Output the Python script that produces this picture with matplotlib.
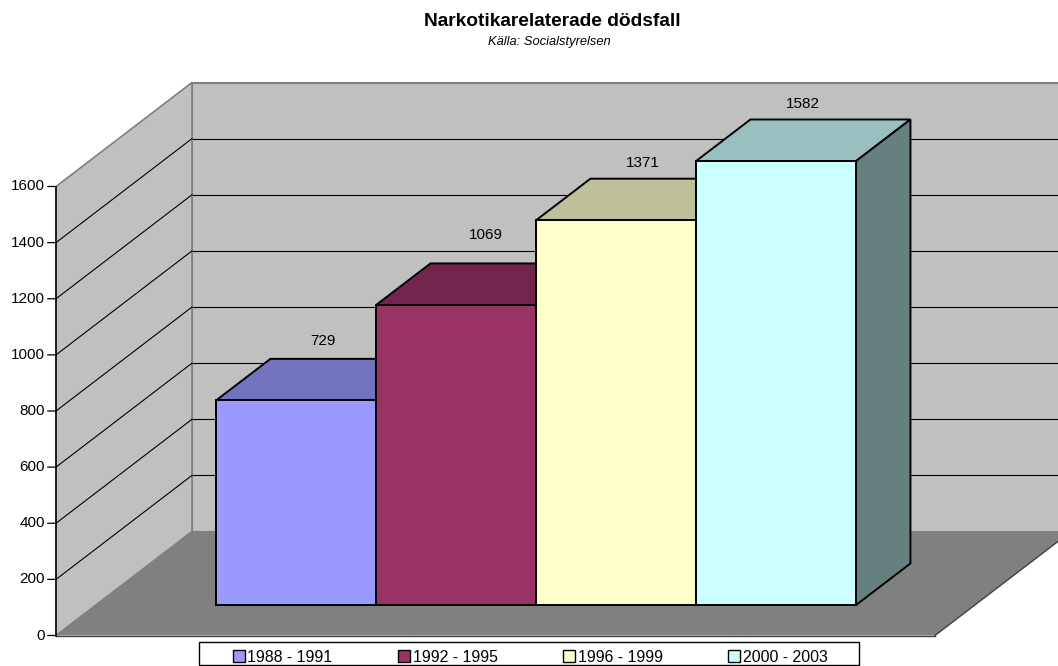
# -*- coding: utf-8 -*-
"""Narkotikarelaterade dodsfall, 3D style column chart."""

import matplotlib as mpl
mpl.use('Agg')

from matplotlib import pyplot as plt
from matplotlib.patches import Patch, Polygon, Rectangle

plt.rcParams['font.family'] = ['Liberation Sans', 'DejaVu Sans']

periods = ["1988 - 1991", "1992 - 1995", "1996 - 1999", "2000 - 2003"]
deaths = [729, 1069, 1371, 1582]
colors = ["#9999FF", "#993366", "#FFFFCC", "#CCFFFF"]
label_pads = [18, 28, 15.5, 15.5]
label_shifts = [0, 3, 0, 0]
yticks = [0, 200, 400, 600, 800, 1000, 1200, 1400, 1600]

# size of the picture and of the fake 3D box, in pixels
W, H = 1058, 666
PX_X = 160.0      # one category
PX_Y = 449 / 1600.0  # one death
SHIFT_X = 136 / PX_X
SHIFT_Y = 104 / PX_Y
ORIGIN_X = 176.2  # pixel of x=0, depth 0
ORIGIN_Y = 635.5  # pixel of y=0, depth 0
LEFT = (56 - ORIGIN_X) / PX_X
RIGHT = (935 - ORIGIN_X) / PX_X
TOP = 1600
D_FRONT = 0.293
D_BAR = 0.4


def pt(x, y, d=0.0):
    """Project x, y and a depth from 0 to 1 into the axes."""
    return x + d * SHIFT_X, y + d * SHIFT_Y


def shade(color, f):
    r, g, b = mpl.colors.to_rgb(color)
    return (r * f, g * f, b * f)


fig = plt.figure(figsize=(W / 100, H / 100), dpi=100)
ax = fig.add_axes([0, 0, 1, 1])
ax.set_xlim(-ORIGIN_X / PX_X, (W - ORIGIN_X) / PX_X)
ax.set_ylim((ORIGIN_Y - H) / PX_Y, ORIGIN_Y / PX_Y)
ax.axis("off")

# back wall, side wall and floor
ax.add_patch(Polygon([pt(LEFT, 0, 1), pt(RIGHT, 0, 1), pt(RIGHT, TOP, 1), pt(LEFT, TOP, 1)],
                     fc="#C0C0C0", ec="#808080", lw=1.5, zorder=1))
ax.add_patch(Polygon([pt(LEFT, 0), pt(LEFT, 0, 1), pt(LEFT, TOP, 1), pt(LEFT, TOP)],
                     fc="#C0C0C0", ec="#808080", lw=1.2, zorder=2))
ax.add_patch(Polygon([pt(LEFT, 0), pt(RIGHT, 0), pt(RIGHT, 0, 1), pt(LEFT, 0, 1)],
                     fc="#808080", ec="none", zorder=3))
for a, b in [(pt(LEFT, 0), pt(RIGHT, 0)), (pt(RIGHT, 0), pt(RIGHT, 0, 1))]:
    ax.plot([a[0], b[0]], [a[1], b[1]], c="#404040", lw=1, zorder=3)

# grid lines
for v in yticks[1:-1]:
    x0, y0 = pt(LEFT, v)
    x1, y1 = pt(LEFT, v, 1)
    x2, y2 = pt(RIGHT, v, 1)
    ax.plot([x0, x1], [y0, y1], c="black", lw=0.8, zorder=2)
    ax.plot([x1, x2], [y1, y2], c="black", lw=0.8, zorder=1)

# value axis
ax.plot([LEFT, LEFT], [0, TOP], c="black", lw=1.1, zorder=4)
for v in yticks:
    ax.annotate("", xy=(LEFT, v), xytext=(-6, 0), textcoords="offset points",
                arrowprops=dict(arrowstyle="-", color="black", lw=0.9, shrinkA=0, shrinkB=0),
                zorder=4)
    ax.annotate(str(v), xy=(LEFT, v), xytext=(-8, 0), textcoords="offset points",
                ha="right", va="center", fontsize=11, color="black")

# bars
base = D_FRONT * SHIFT_Y
for i, (val, col) in enumerate(zip(deaths, colors)):
    z = 5 + i
    h = val + base
    xl = i + D_FRONT * SHIFT_X
    xr = xl + 1
    ax.add_patch(Polygon([pt(xl, h), pt(xr, h), pt(xr, h, D_BAR), pt(xl, h, D_BAR)],
                         fc=shade(col, 0.75), ec="black", lw=1.4, zorder=z))
    ax.add_patch(Polygon([pt(xr, base), pt(xr, base, D_BAR), pt(xr, h, D_BAR), pt(xr, h)],
                         fc=shade(col, 0.5), ec="black", lw=1.4, zorder=z))
    ax.bar(xl + 0.5, val, bottom=base, width=1, color=col, edgecolor="black", lw=1.4, zorder=z)
    lx = pt(xl + 0.5, h, D_BAR / 2)[0]
    ly = pt(xl + 0.5, h, D_BAR)[1]
    ax.annotate(str(val), xy=(lx, ly),
                xytext=(label_shifts[i] * 0.72, label_pads[i] * 0.72), textcoords="offset points",
                ha="center", va="center", fontsize=11, color="black", zorder=20)

# titles
fig.text(552 / W, 1 - 21 / H, "Narkotikarelaterade dödsfall", ha="center", va="center",
         fontsize=13.75, fontweight="bold")
fig.text(549 / W, 1 - 41.5 / H, "Källa: Socialstyrelsen", ha="center", va="center",
         fontsize=9.3, fontstyle="italic")

# legend, box drawn by hand because the entries sit well inside it
fig.add_artist(Rectangle((199 / W, 1 / H), 660 / W, 23 / H, transform=fig.transFigure,
                         fc="white", ec="black", lw=1))
handles = [Patch(fc=c, ec="black", lw=1) for c in colors]
leg = fig.legend(handles, periods, ncols=4, loc="center left",
                 bbox_to_anchor=(233 / W, 1 - 657 / H), borderaxespad=0, borderpad=0,
                 fontsize=11.4, frameon=False, handlelength=0.76, handleheight=0.76,
                 handletextpad=0.15, columnspacing=4.15)

fig.savefig("out.png", dpi=100)
